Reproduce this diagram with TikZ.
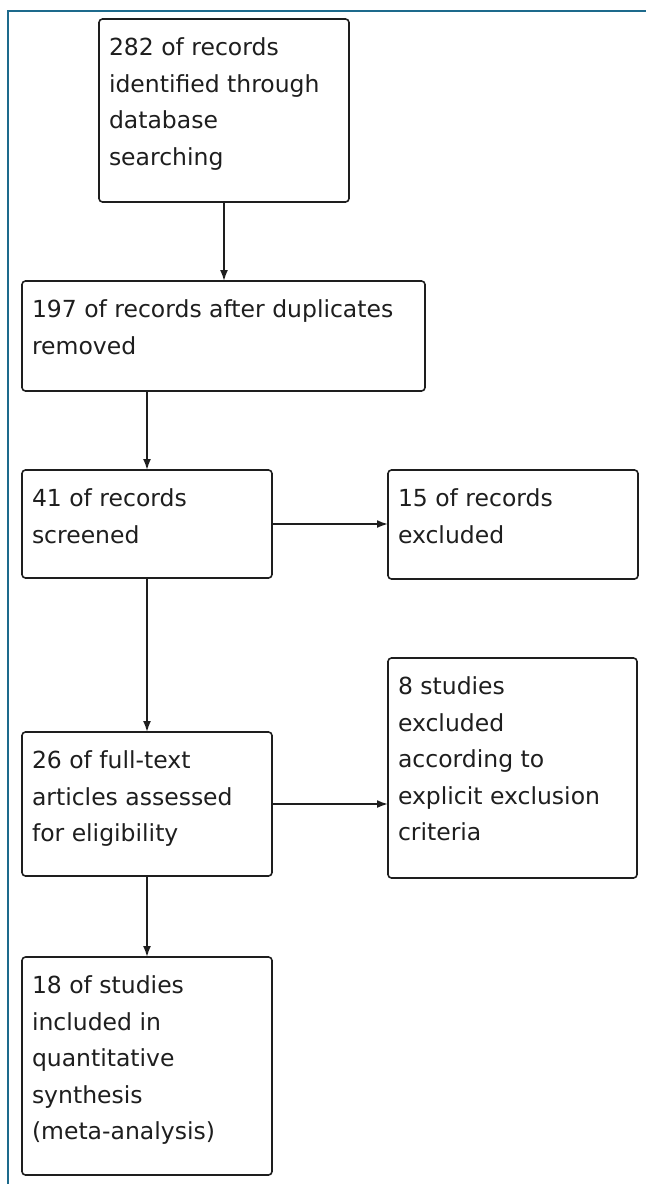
\documentclass[tikz,border=0pt]{standalone}
\usepackage{fontspec}
\setmainfont{DejaVu Sans}
\usetikzlibrary{arrows.meta}
\definecolor{framecol}{HTML}{1D6A8C}
\definecolor{inkcol}{HTML}{1E1E1E}
\newcommand\bxtext[3]{\parbox[t][#2pt][t]{#1pt}{\raggedright\rule{0pt}{36.5pt}#3}}
\begin{document}
\begin{tikzpicture}[x=1pt,y=-1pt,
  box/.style={draw=inkcol, line width=1.6pt, rounded corners=3.5pt, inner xsep=10pt, inner ysep=0pt, outer sep=0pt, anchor=north west, text=inkcol, font=\fontsize{23.5}{36.6}\selectfont},
  conn/.style={draw=inkcol, line width=1.8pt, -{Latex[length=11pt,width=8pt]}}]
\useasboundingbox (0,0) rectangle (646,1184);
\draw[framecol, line width=1.6pt] (8,1184) -- (8,11) -- (646,11);
\node[box] (b1) at (99,19) {\bxtext{230}{183}{282 of records\\identified through\\database\\searching}};
\node[box] (b2) at (22,281) {\bxtext{383}{110}{197 of records after duplicates\\removed}};
\node[box] (b3) at (22,470) {\bxtext{230}{108}{41 of records\\screened}};
\node[box] (b4) at (388,470) {\bxtext{230}{109}{15 of records\\excluded}};
\node[box] (b5) at (22,732) {\bxtext{230}{144}{26 of full-text\\articles assessed\\for eligibility}};
\node[box] (b6) at (388,658) {\bxtext{229}{220}{8 studies\\excluded\\according to\\explicit exclusion\\criteria}};
\node[box] (b7) at (22,957) {\bxtext{230}{218}{18 of studies\\included in\\quantitative\\synthesis\\(meta-analysis)}};
\draw[conn] (b1.south) -- (b2.north -| b1.south);
\draw[conn] (b2.south -| b3.north) -- (b3.north);
\draw[conn] (b3.east) -- (b4.west |- b3.east);
\draw[conn] (b3.south) -- (b5.north);
\draw[conn] (b5.east) -- (b6.west |- b5.east);
\draw[conn] (b5.south) -- (b7.north);
\end{tikzpicture}
\end{document}
